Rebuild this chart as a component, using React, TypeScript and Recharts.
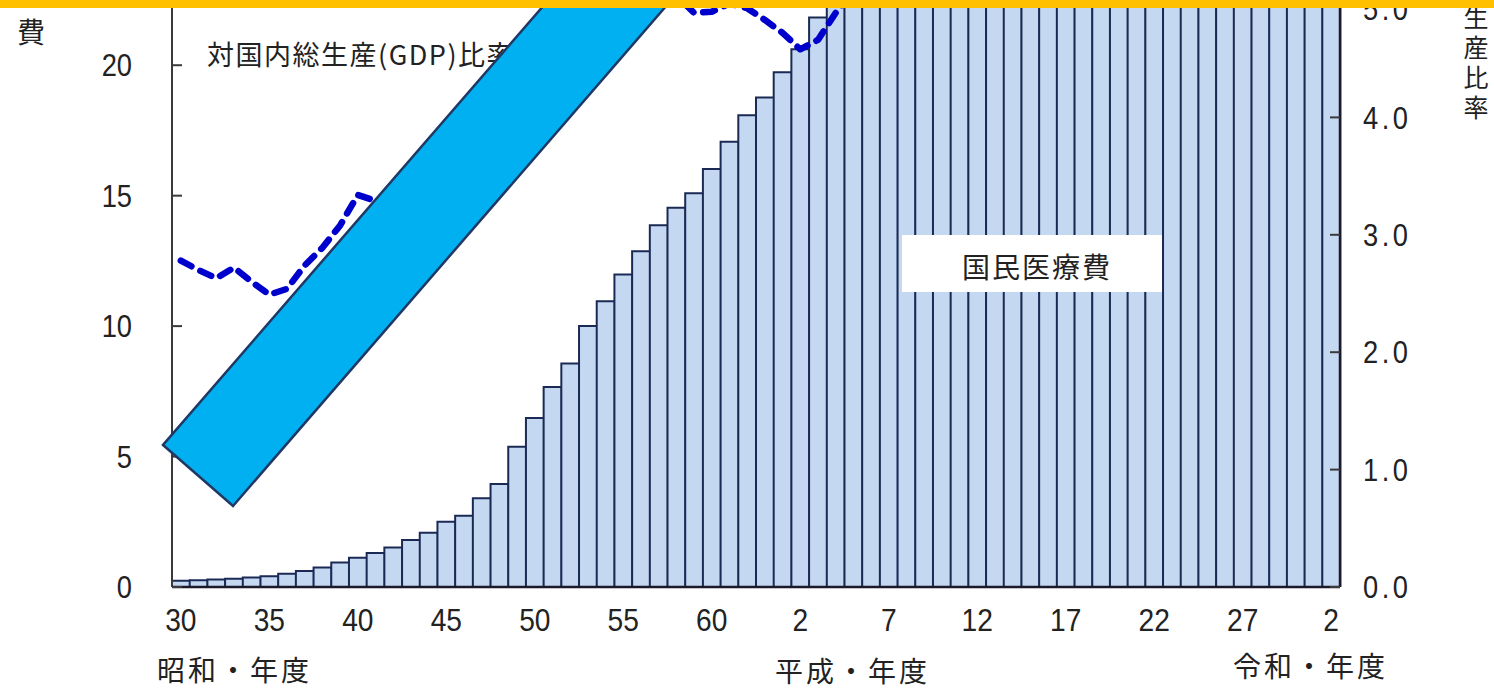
import React from "react";
import { ComposedChart, Bar, Line, XAxis, YAxis } from "recharts";

// Fiscal-year tick labels (Showa 30 .. Showa 63, Heisei 1 .. Heisei 30, Reiwa 1 .. Reiwa 2)
const yearLabels = [
  "30", "31", "32", "33", "34", "35", "36", "37", "38", "39",
  "40", "41", "42", "43", "44", "45", "46", "47", "48", "49",
  "50", "51", "52", "53", "54", "55", "56", "57", "58", "59",
  "60", "61", "62", "63",
  "1", "2", "3", "4", "5", "6", "7", "8", "9", "10",
  "11", "12", "13", "14", "15", "16", "17", "18", "19", "20",
  "21", "22", "23", "24", "25", "26", "27", "28", "29", "30",
  "1", "2",
];

// 国民医療費 (兆円)
const medicalCost = [
  0.24, 0.26, 0.29, 0.32, 0.36, 0.41, 0.51, 0.61, 0.75, 0.94,
  1.12, 1.30, 1.51, 1.80, 2.08, 2.50, 2.73, 3.40, 3.95, 5.38,
  6.48, 7.67, 8.57, 10.00, 10.95, 11.98, 12.87, 13.87, 14.54, 15.09,
  16.02, 17.07, 18.08, 18.76,
  19.73, 20.61, 21.83, 23.48, 24.36, 25.79, 26.96, 28.45, 28.91, 29.58,
  30.70, 30.14, 31.10, 30.95, 31.54, 32.11, 33.13, 33.13, 34.14, 34.81,
  36.01, 37.42, 38.59, 39.21, 40.06, 40.81, 42.36, 42.14, 43.07, 43.39,
  44.39, 42.97,
];

// 対国内総生産比率 (%)
const gdpRatio = [
  2.78, 2.70, 2.63, 2.72, 2.60, 2.49, 2.54, 2.74, 2.89, 3.08,
  3.34, 3.29, 3.22, 3.28, 3.19, 3.30, 3.28, 3.58, 3.39, 3.87,
  4.25, 4.43, 4.45, 4.65, 4.73, 4.82, 4.98, 5.07, 5.04, 4.89,
  4.90, 4.97, 4.93, 4.83,
  4.72, 4.58, 4.66, 4.89, 5.08, 5.27, 5.40, 5.55, 5.57, 5.84,
  6.06, 5.83, 6.13, 6.14, 6.23, 6.29, 6.48, 6.42, 6.59, 6.97,
  7.60, 7.62, 7.90, 7.97, 7.88, 7.88, 7.81, 7.75, 7.76, 7.76,
  7.91, 7.99,
];

const leftTicks = [0, 5, 10, 15, 20];
const rightTicks = [0, 1, 2, 3, 4, 5];
const eraTitles = ["昭和・年度", "平成・年度", "令和・年度"];
const rightTitle = "生産比率";

const data = yearLabels.map((label, i) => ({
  idx: i,
  label,
  cost: medicalCost[i],
  ratio: gdpRatio[i],
}));

const FONT_NUM = '"Liberation Sans", Arial, sans-serif';
const FONT_JP = '"Noto Sans CJK JP", "Noto Sans CJK SC", sans-serif';
const TEXT = "#222";

const LeftTick = (props: any) => {
  const { x, y, payload } = props;
  return (
    <text
      x={0}
      y={0}
      dy="0.36em"
      transform={`translate(${x},${y}) scale(0.88,1)`}
      textAnchor="end"
      fontSize={31}
      fontFamily={FONT_NUM}
      fill={TEXT}
    >
      {payload.value}
    </text>
  );
};

const RightTick = (props: any) => {
  const { x, y, payload } = props;
  return (
    <text
      x={0}
      y={0}
      dy="0.36em"
      transform={`translate(${x},${y}) scale(0.88,1)`}
      textAnchor="start"
      fontSize={31}
      letterSpacing={4}
      fontFamily={FONT_NUM}
      fill={TEXT}
    >
      {Number(payload.value).toFixed(1)}
    </text>
  );
};

const BottomTick = (props: any) => {
  const { x, y, payload } = props;
  const lbl = yearLabels[payload.value];
  return (
    <text
      x={0}
      y={44}
      transform={`translate(${x},${y}) scale(0.88,1)`}
      textAnchor="middle"
      fontSize={32}
      fontFamily={FONT_NUM}
      fill={TEXT}
    >
      {lbl}
    </text>
  );
};

export default function App() {
  return (
    <div
      style={{
        position: "absolute",
        left: 0,
        top: 0,
        width: 1494,
        height: 689,
        overflow: "hidden",
        background: "#fff",
      }}
    >
      <ComposedChart
        width={1494}
        height={689}
        data={data}
        margin={{ top: 0, right: 0, bottom: 0, left: 0 }}
        barCategoryGap={0}
        barGap={0}
      >
        <XAxis
          dataKey="idx"
          interval={4}
          height={102}
          tickSize={0}
          tickMargin={0}
          tickLine={false}
          axisLine={{ stroke: "#1a1a2a", strokeWidth: 2.5 }}
          tick={<BottomTick />}
        />
        <YAxis
          yAxisId="left"
          orientation="left"
          width={172}
          domain={[0, 22.5]}
          allowDataOverflow
          ticks={leftTicks}
          tickSize={-10}
          tickMargin={50}
          axisLine={{ stroke: "#3a3a3a", strokeWidth: 2 }}
          tickLine={{ stroke: "#3a3a3a", strokeWidth: 2 }}
          tick={<LeftTick />}
        />
        <YAxis
          yAxisId="right"
          orientation="right"
          width={154}
          domain={[0, 5]}
          allowDataOverflow
          ticks={rightTicks}
          tickSize={-10}
          tickMargin={33}
          axisLine={{ stroke: "#1a1a2a", strokeWidth: 2.5 }}
          tickLine={{ stroke: "#3a3a3a", strokeWidth: 2 }}
          tick={<RightTick />}
        />
        <Bar
          yAxisId="left"
          dataKey="cost"
          fill="#C5D8F1"
          stroke="#1B2A55"
          strokeWidth={2}
          isAnimationActive={false}
        />
        <Line
          yAxisId="right"
          dataKey="ratio"
          type="linear"
          stroke="#0000CC"
          strokeWidth={6.5}
          strokeDasharray="12 10"
          strokeLinecap="round"
          strokeLinejoin="round"
          dot={false}
          activeDot={false}
          isAnimationActive={false}
        />
      </ComposedChart>

      <svg
        width={1494}
        height={689}
        style={{ position: "absolute", left: 0, top: 0, pointerEvents: "none" }}
      >
        <text
          x={207}
          y={53}
          dominantBaseline="central"
          fontSize={27}
          letterSpacing={1.5}
          fontFamily={FONT_JP}
          fill={TEXT}
        >
          対国内総生産(GDP)比率
        </text>

        <polygon
          points="163,445 233,506 758,-100 635,-100"
          fill="#00B0F0"
          stroke="#1F3864"
          strokeWidth={2.5}
          strokeLinejoin="miter"
        />

        <rect x={902} y={235} width={260} height={57} fill="#fff" />
        <text
          x={1037}
          y={266}
          dominantBaseline="central"
          textAnchor="middle"
          fontSize={28}
          letterSpacing={2}
          fontFamily={FONT_JP}
          fill={TEXT}
        >
          国民医療費
        </text>

        <text x={157} y={669} dominantBaseline="central" fontSize={28} letterSpacing={3} fontFamily={FONT_JP} fill={TEXT}>
          {eraTitles[0]}
        </text>
        <text x={775} y={670} dominantBaseline="central" fontSize={28} letterSpacing={3} fontFamily={FONT_JP} fill={TEXT}>
          {eraTitles[1]}
        </text>
        <text x={1233} y={665} dominantBaseline="central" fontSize={28} letterSpacing={3} fontFamily={FONT_JP} fill={TEXT}>
          {eraTitles[2]}
        </text>

        <text x={31} y={31} dominantBaseline="central" textAnchor="middle" fontSize={28} fontFamily={FONT_JP} fill={TEXT}>
          費
        </text>

        <text
          x={1476}
          y={5}
          fontSize={25}
          letterSpacing={5}
          fontFamily={FONT_JP}
          fill={TEXT}
          style={{ writingMode: "vertical-rl", textOrientation: "upright" } as any}
        >
          {rightTitle}
        </text>

        <rect x={0} y={0} width={1494} height={8} fill="#FFC000" />
      </svg>
    </div>
  );
}
